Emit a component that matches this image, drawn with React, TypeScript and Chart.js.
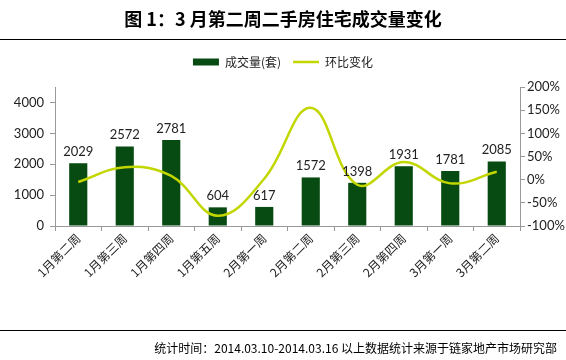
import React, { useEffect, useRef } from "react";
import { Chart, registerables } from "chart.js";

Chart.register(...registerables);

const categories = ["1月第二周", "1月第三周", "1月第四周", "1月第五周", "2月第一周", "2月第二周", "2月第三周", "2月第四周", "3月第一周", "3月第二周"];
const volumes = [2029, 2572, 2781, 604, 617, 1572, 1398, 1931, 1781, 2085];
const ringChange = [-5, 27, 8, -78, 2, 155, -11, 38, -8, 17];
const leftTicks = [0, 1000, 2000, 3000, 4000];
const rightTicks = [-100, -50, 0, 50, 100, 150, 200];

const BAR_COLOR = "#074a12";
const LINE_COLOR = "#c2d600";
const NUM_FONT = "Lato, 'Noto Sans CJK SC', sans-serif";
const CJK_FONT = "'Noto Sans CJK SC', sans-serif";

const legendHeightPlugin = {
  id: "legendHeight",
  beforeInit(chart: any) {
    const orig = chart.legend.fit;
    chart.legend.fit = function () {
      orig.bind(chart.legend)();
      this.height = 43;
    };
  },
};

const barLabels = {
  id: "barLabels",
  afterDatasetsDraw(chart: any) {
    const ctx = chart.ctx;
    const meta = chart.getDatasetMeta(0);
    ctx.save();
    ctx.font = "13px " + NUM_FONT;
    ctx.fillStyle = "#222";
    ctx.textAlign = "center";
    ctx.textBaseline = "bottom";
    meta.data.forEach((el: any, i: number) => {
      ctx.fillText(String(volumes[i]), el.x, el.y - 5);
    });
    ctx.restore();
  },
};

export default function App() {
  const ref = useRef<HTMLCanvasElement>(null);
  useEffect(() => {
    if (!ref.current) return;
    const chart = new Chart(ref.current, {
      type: "bar",
      data: {
        labels: categories,
        datasets: [
          {
            type: "bar",
            label: "成交量(套)",
            data: volumes,
            backgroundColor: BAR_COLOR,
            yAxisID: "y",
            order: 1,
            barPercentage: 0.39,
            categoryPercentage: 1,
            pointStyle: "rect",
          } as any,
          {
            type: "line",
            label: "环比变化",
            data: ringChange,
            borderColor: LINE_COLOR,
            backgroundColor: LINE_COLOR,
            borderWidth: 2.5,
            pointRadius: 0,
            tension: 0.4,
            yAxisID: "y1",
            order: 0,
            pointStyle: "line",
          } as any,
        ],
      },
      options: {
        responsive: false,
        animation: false,
        layout: { padding: { top: 44, left: 0, right: 0, bottom: 64 } },
        plugins: {
          tooltip: { enabled: false },
          legend: {
            position: "top",
            labels: {
              sort: (a: any, b: any) => a.datasetIndex - b.datasetIndex,
              usePointStyle: true,
              pointStyleWidth: 26,
              boxHeight: 7,
              padding: 12,
              color: "#222",
              font: { size: 12, family: CJK_FONT },
            },
          },
        },
        scales: {
          x: {
            grid: { display: true, drawOnChartArea: false, offset: true, tickLength: 5, color: "#999" },
            border: { color: "#999" },
            ticks: {
              minRotation: 45,
              maxRotation: 45,
              color: "#222",
              font: { size: 12, family: CJK_FONT },
              padding: 0,
            },
            afterFit: (s: any) => { s.height = 70; },
          },
          y: {
            position: "left",
            min: 0,
            max: 4500,
            grid: { display: true, drawOnChartArea: false, tickLength: 5, color: "#999" },
            border: { color: "#999" },
            ticks: {
              stepSize: 1000,
              color: "#222",
              font: { size: 13, family: NUM_FONT },
              padding: 6,
              callback: (v: any) => String(v),
            },
            afterBuildTicks: (s: any) => { s.ticks = leftTicks.map((v) => ({ value: v })); },
            afterFit: (s: any) => { s.width = 55; },
          },
          y1: {
            position: "right",
            min: -100,
            max: 200,
            grid: { display: true, drawOnChartArea: false, tickLength: 5, color: "#999" },
            border: { color: "#999" },
            ticks: {
              stepSize: 50,
              color: "#222",
              font: { size: 13, family: NUM_FONT },
              padding: 2,
              callback: (v: any) => v + "%",
            },
            afterBuildTicks: (s: any) => { s.ticks = rightTicks.map((v) => ({ value: v })); },
            afterFit: (s: any) => { s.width = 46; },
          },
        },
      } as any,
      plugins: [legendHeightPlugin, barLabels],
    });
    return () => chart.destroy();
  }, []);

  return (
    <div style={{ position: "absolute", left: 0, top: 0, width: 566, height: 360, background: "#fff", overflow: "hidden" }}>
      <canvas ref={ref} width={566} height={360} style={{ position: "absolute", left: 0, top: 0 }} />
      <div style={{ position: "absolute", left: 0, top: 6, width: 566, textAlign: "center", fontFamily: CJK_FONT, fontWeight: 700, fontSize: 18, lineHeight: "24px", color: "#000" }}>
        图 1：3 月第二周二手房住宅成交量变化
      </div>
      <div style={{ position: "absolute", left: 0, top: 39, width: 566, height: 1, background: "#000" }} />
      <div style={{ position: "absolute", left: 0, top: 330, width: 566, height: 1, background: "#000" }} />
      <div style={{ position: "absolute", right: 9, top: 340, fontFamily: CJK_FONT, fontSize: 12, lineHeight: "16px", color: "#000", whiteSpace: "nowrap" }}>
        统计时间：2014.03.10-2014.03.16 以上数据统计来源于链家地产市场研究部
      </div>
    </div>
  );
}
